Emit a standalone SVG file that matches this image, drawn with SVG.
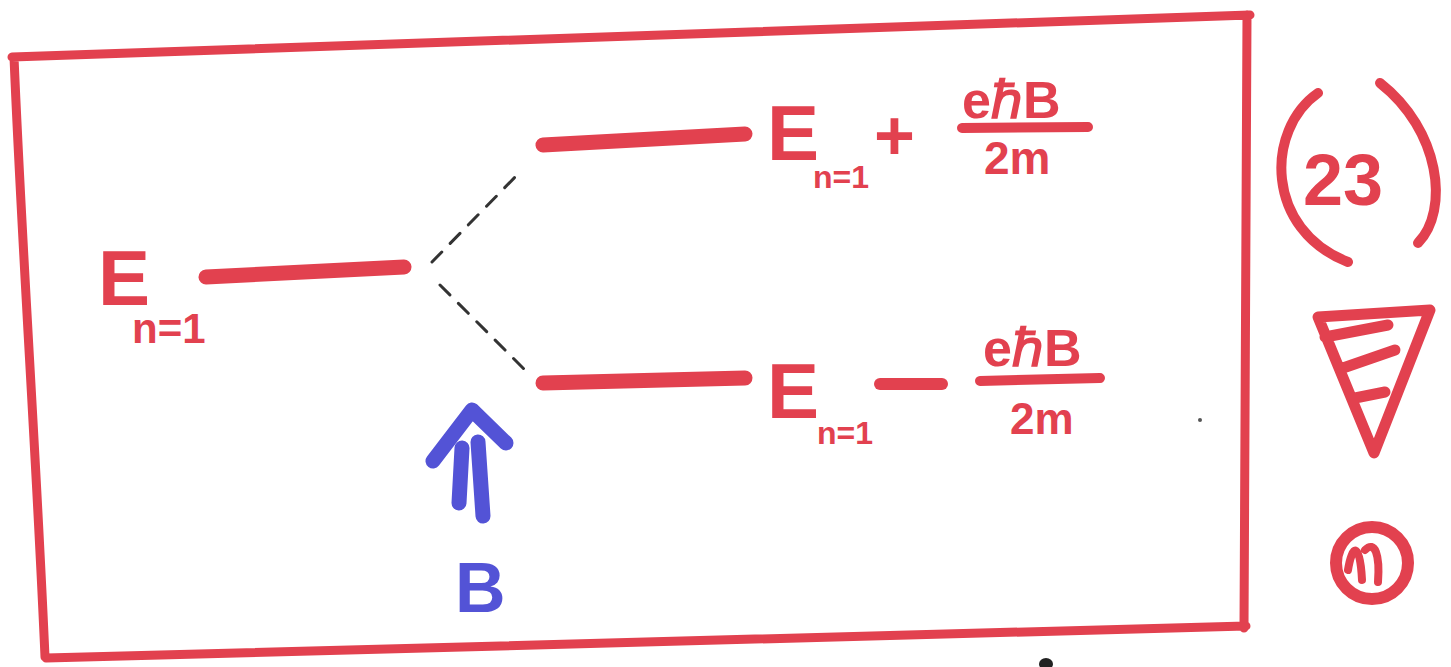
<svg xmlns="http://www.w3.org/2000/svg" width="1451" height="667" viewBox="0 0 1451 667">
<style>
.mk{fill:none;stroke:#e2414f;stroke-linecap:round;stroke-linejoin:round}
.bl{fill:none;stroke:#5353d6;stroke-linecap:round;stroke-linejoin:round}
.t{fill:#e2414f;font-family:"Liberation Sans",Arial,sans-serif;font-weight:bold}
.tb{fill:#5353d6;font-family:"Liberation Sans",Arial,sans-serif;font-weight:bold}
.ds{fill:none;stroke:#333;stroke-width:3;stroke-dasharray:14 12;stroke-linecap:round}
</style>
<rect width="1451" height="667" fill="#fff"/>
<g id="frame">
<path class="mk" stroke-width="9" d="M12,57 L1250,15 M1247,15 L1244,628 M1246,626 L46,658 M14,57 C22,250 36,450 45,657"/>
</g>
<g id="level-n1">
<path class="mk" stroke-width="15" d="M206,277 L404,267"/>
<text class="t" x="98" y="305" font-size="78">E</text>
<text class="t" x="132" y="343" font-size="42">n=1</text>
</g>
<g id="level-upper">
<path class="mk" stroke-width="15" d="M543,145 L745,134"/>
<text class="t" x="767" y="160" font-size="78">E</text>
<text class="t" x="813" y="188" font-size="32">n=1</text>
<text class="t" x="874" y="160" font-size="70">+</text>
<text class="t" x="962" y="118" font-size="52">eℏB</text>
<path class="mk" stroke-width="10" d="M962,128 L1088,127"/>
<text class="t" x="984" y="174" font-size="46">2m</text>
</g>
<g id="level-lower">
<path class="mk" stroke-width="15" d="M543,383 L745,378"/>
<text class="t" x="767" y="418" font-size="78">E</text>
<text class="t" x="817" y="444" font-size="32">n=1</text>
<path class="mk" stroke-width="12" d="M880,384 L942,384"/>
<text class="t" x="983" y="366" font-size="52">eℏB</text>
<path class="mk" stroke-width="10" d="M980,381 L1100,378"/>
<text class="t" x="1010" y="434" font-size="44">2m</text>
</g>
<g id="connectors">
<path class="ds" d="M432,262 L520,172"/>
<path class="ds" d="M440,285 L527,372"/>
</g>
<g id="field">
<path class="bl" stroke-width="15" d="M433,461 L472,410 L506,443 M462,448 L459,503 M478,442 L483,516"/>
<text class="tb" x="455" y="612" font-size="70">B</text>
</g>
<g id="label-23">
<path class="mk" stroke-width="10" d="M1318,93 C1265,130 1265,230 1348,262"/>
<path class="mk" stroke-width="10" d="M1380,83 C1440,130 1450,210 1418,243"/>
<text class="t" x="1303" y="205" font-size="72">23</text>
</g>
<g id="triangle">
<path class="mk" stroke-width="11" d="M1318,317 L1430,310 L1374,453 Z M1325,337 L1388,325 M1343,368 L1395,350 M1355,398 L1385,392"/>
</g>
<g id="circle-m">
<circle class="mk" stroke-width="12" cx="1372" cy="563" r="36"/>
<path class="mk" stroke-width="8" d="M1348,570 C1352,545 1360,540 1362,580 M1365,550 C1375,540 1380,555 1378,582"/>
</g>
<g id="marks">
<circle cx="1200" cy="420" r="2" fill="#555"/>
<ellipse cx="1046" cy="664" rx="7" ry="6" fill="#222"/>
</g>
</svg>
